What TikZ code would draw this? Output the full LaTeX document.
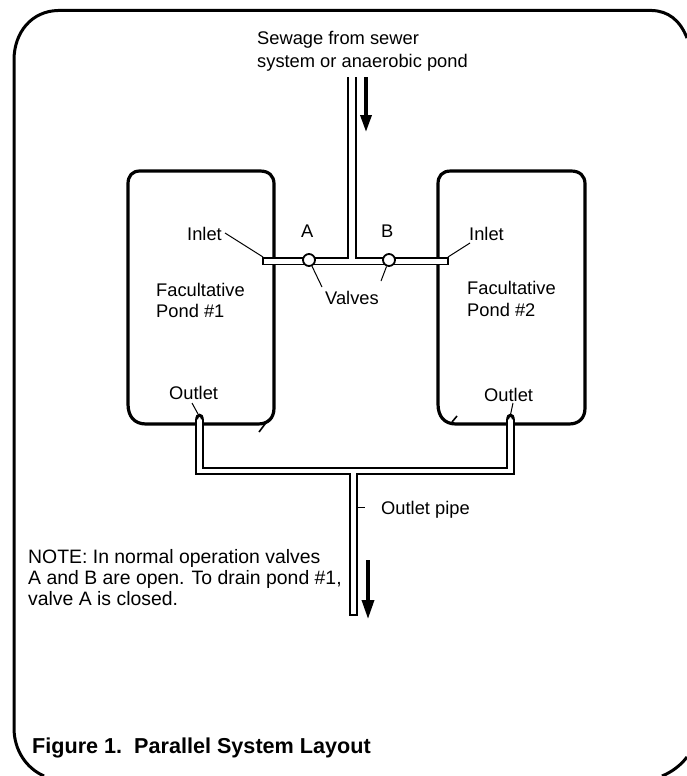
\documentclass[tikz,border=0pt]{standalone}
\usepackage{fontspec}
\setmainfont{Liberation Sans}
\usetikzlibrary{arrows.meta}
\tikzset{
  lbl/.style={inner sep=0pt,font=\fontsize{18.3}{22}\selectfont,align=left,anchor=base west},
  notelbl/.style={lbl,font=\fontsize{19.4}{22}\selectfont},
  frameline/.style={line width=3pt,line cap=butt,line join=round},
  pondline/.style={line width=3.2pt,line join=round,line cap=round},
  pipe/.style={line width=1.8pt,line join=miter},
  leader/.style={line width=1pt},
  flowa/.style={line width=3.4pt,-{Triangle[width=11pt,length=17pt]}},
  flowb/.style={line width=3.4pt,-{Triangle[width=12pt,length=19pt]}}
}
\begin{document}
\begin{tikzpicture}[x=1pt,y=-1pt]
\useasboundingbox (0,0) rectangle (687,776);
\fill[white] (0,0) rectangle (687,776);
% frame
\draw[frameline] (687,38) .. controls (680,20) and (668,11) .. (652,10.5) -- (58,10.5) .. controls (32,11) and (14,32) .. (14,60) -- (14,728) .. controls (14,750) and (26,768) .. (44,776);
\draw[frameline] (662,776) .. controls (672,772) and (681,765) .. (687,757);
% ponds
\draw[pondline] (140,171) -- (260,171) .. controls (269,171) and (274,176) .. (274,184) -- (274,408) .. controls (274,418) and (268,424) .. (258,424) -- (146,424) .. controls (134,424) and (128,416) .. (128,404) -- (128,184) .. controls (128,176) and (132,171) .. (140,171) -- cycle;
\draw[pondline] (451,171) -- (571,171) .. controls (580,171) and (585,176) .. (585,184) -- (585,408) .. controls (585,418) and (579,424) .. (569,424) -- (456,424) .. controls (444,424) and (438,416) .. (438,404) -- (438,184) .. controls (438,176) and (442,171) .. (451,171) -- cycle;
\coordinate (t1s) at (259,432); \coordinate (t1e) at (268,420);
\coordinate (t2s) at (452,422); \coordinate (t2e) at (457,416);
\draw[line width=1.6pt] (t1s) -- (t1e);
\draw[line width=1.6pt] (t2s) -- (t2e);
% inlet pipe
\fill[white] (263,258) rectangle (448,264);
\fill[white] (349,77) rectangle (356,262);
\draw[pipe] (348,77) -- (348,258) -- (263,258) -- (263,264.5) -- (448,264.5) -- (448,258) -- (356,258) -- (356,77);
% outlet pipes
\fill[white] (196,415) rectangle (203,470);
\fill[white] (507,415) rectangle (514,470);
\draw[pipe] (196,419) -- (196,474) -- (350,474) -- (350,615) -- (357,615) -- (357,474) -- (514,474) -- (514,419);
\draw[pipe] (203,419) -- (203,468) -- (507,468) -- (507,419);
\draw[line width=3pt] (196.5,419) .. controls (197,414) and (202,414) .. (202.5,419);
\draw[line width=3pt] (507.5,419) .. controls (508,414) and (513,414) .. (513.5,419);
% valves
\node[draw,circle,fill=white,line width=1.8pt,minimum size=12pt,inner sep=0pt] (va) at (309,260) {};
\node[draw,circle,fill=white,line width=1.8pt,minimum size=12pt,inner sep=0pt] (vb) at (389,260) {};
% arrows
\coordinate (a1s) at (366,77); \coordinate (a1e) at (366,132);
\coordinate (a2s) at (368,560); \coordinate (a2e) at (368,619);
\draw[flowa] (a1s) -- (a1e);
\draw[flowb] (a2s) -- (a2e);
% labels
\node[lbl] (t1) at (257,45) {Sewage from sewer};
\node[lbl] (t3) at (257,67) {system or anaerobic pond};
\node[lbl] (in1) at (187,240) {Inlet};
\node[lbl] (in2) at (469,240) {Inlet};
\node[lbl] (la) at (301,237) {A};
\node[lbl] (lb) at (381,237) {B};
\node[lbl] (vv) at (325,304) {Valves};
\node[lbl] (f1a) at (156,296) {Facultative};
\node[lbl] (f1b) at (156,317) {Pond \#1};
\node[lbl] (f2a) at (467,294) {Facultative};
\node[lbl] (f2b) at (467,316) {Pond \#2};
\node[lbl] (o1) at (169,399) {Outlet};
\node[lbl] (o2) at (484,401) {Outlet};
\node[lbl] (op) at (381,514) {Outlet pipe};
\node[notelbl] (n1) at (28,563) {NOTE: In normal operation valves};
\node[notelbl] (n2) at (28,584) {A and B are open. To drain pond \#1,};
\node[notelbl] (n3) at (28,605) {valve A is closed.};
\node[lbl,font=\fontsize{21.6}{24}\selectfont\bfseries] (cap) at (32,753) {Figure 1.\ \ Parallel System Layout};
% leaders
\coordinate (l1a) at (225,233); \coordinate (l1b) at (263,257);
\coordinate (l2a) at (470,243); \coordinate (l2b) at (448,257);
\coordinate (l3a) at (192,403); \coordinate (l3b) at (198,414);
\coordinate (l4a) at (513,403); \coordinate (l4b) at (510,417);
\coordinate (l5a) at (357,507); \coordinate (l5b) at (365,507);
\coordinate (l6) at (322,287); \coordinate (l7) at (381,281);
\draw[leader] (l1a) -- (l1b);
\draw[leader] (l2a) -- (l2b);
\draw[leader] (va) -- (l6);
\draw[leader] (vb) -- (l7);
\draw[leader] (l3a) -- (l3b);
\draw[leader] (l4a) -- (l4b);
\draw[leader] (l5a) -- (l5b);
\end{tikzpicture}
\end{document}
